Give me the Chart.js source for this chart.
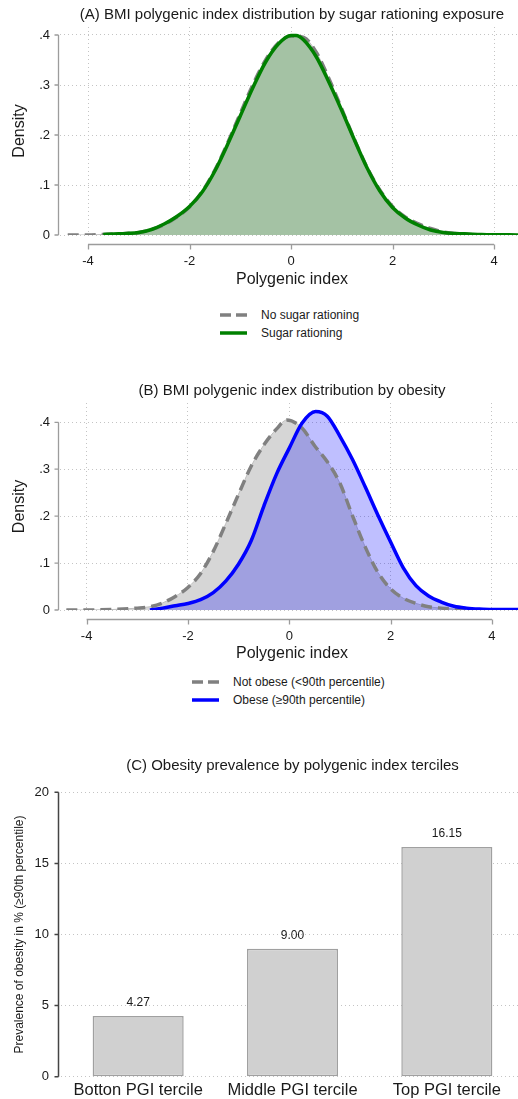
<!DOCTYPE html>
<html>
<head>
<meta charset="utf-8">
<script src="https://cdn.jsdelivr.net/npm/chart.js@4.4.1/dist/chart.umd.min.js"></script>
<style>
html, body { margin: 0; padding: 0; background: #fff; overflow: hidden; }
#page { position: relative; width: 524px; height: 1099px; }
#page canvas { position: absolute; left: 0; }
.legend { position: absolute; font: 12px "Liberation Sans", Arial, sans-serif; color: #1a1a1a; }
.legend div { display: flex; align-items: center; height: 18px; }
.legend svg { display: block; }
</style>
</head>
<body>
<div id="page">
  <canvas id="panelA" width="524" height="295" style="top:0"></canvas>
  <div class="legend" id="legendA" style="left:220px;top:306px"></div>
  <canvas id="panelB" width="524" height="300" style="top:370px"></canvas>
  <div class="legend" id="legendB" style="left:192px;top:673px"></div>
  <canvas id="panelC" width="524" height="359" style="top:740px"></canvas>
</div>
<script>
// Panel A: density of the BMI polygenic index, by sugar rationing exposure
const noRationingX = [-4.4, -4.0, -3.7, -3.5, -3.25, -3.0, -2.75, -2.5, -2.25, -2.0, -1.75, -1.5, -1.25, -1.0, -0.75, -0.5, -0.25, 0.0, 0.25, 0.5, 0.75, 1.0, 1.25, 1.5, 1.75, 2.0, 2.25, 2.5, 2.75, 3.0, 3.25, 3.5, 3.8];
const noRationingY = [0.000, 0.000, 0.001, 0.002, 0.003, 0.005, 0.011, 0.021, 0.036, 0.056, 0.087, 0.130, 0.184, 0.243, 0.301, 0.350, 0.384, 0.398, 0.395, 0.365, 0.312, 0.252, 0.191, 0.135, 0.090, 0.057, 0.036, 0.023, 0.013, 0.006, 0.003, 0.001, 0.000];
const rationingX = [-3.7, -3.5, -3.25, -3.0, -2.75, -2.5, -2.25, -2.0, -1.75, -1.5, -1.25, -1.0, -0.75, -0.5, -0.25, 0.0, 0.1, 0.25, 0.5, 0.75, 1.0, 1.25, 1.5, 1.75, 2.0, 2.25, 2.5, 2.75, 3.0, 3.25, 3.5, 3.75, 4.0, 4.3, 4.7];
const rationingY = [0.001, 0.002, 0.003, 0.005, 0.011, 0.022, 0.037, 0.057, 0.086, 0.128, 0.181, 0.238, 0.295, 0.346, 0.382, 0.399, 0.399, 0.390, 0.356, 0.305, 0.249, 0.190, 0.134, 0.088, 0.055, 0.034, 0.020, 0.010, 0.005, 0.003, 0.002, 0.001, 0.0005, 0.0003, 0.0002];

// Panel B: density of the BMI polygenic index, by obesity status
const notObeseX = [-4.4, -4.0, -3.5, -3.0, -2.75, -2.5, -2.25, -2.0, -1.75, -1.5, -1.25, -1.0, -0.75, -0.5, -0.25, -0.05, 0.25, 0.5, 0.75, 1.0, 1.25, 1.5, 1.75, 2.0, 2.25, 2.5, 2.75, 3.0, 3.25, 3.6];
const notObeseY = [0.000, 0.000, 0.001, 0.004, 0.007, 0.015, 0.029, 0.048, 0.078, 0.125, 0.185, 0.247, 0.307, 0.352, 0.386, 0.405, 0.388, 0.350, 0.316, 0.270, 0.200, 0.134, 0.080, 0.045, 0.025, 0.014, 0.007, 0.004, 0.002, 0.000];
const obeseX = [-2.75, -2.5, -2.25, -2.0, -1.75, -1.5, -1.25, -1.0, -0.75, -0.5, -0.25, 0.0, 0.25, 0.52, 0.75, 1.0, 1.25, 1.5, 1.75, 2.0, 2.25, 2.5, 2.75, 3.0, 3.25, 3.5, 3.75, 4.0, 4.3, 4.7];
const obeseY = [0.000, 0.004, 0.009, 0.014, 0.022, 0.037, 0.062, 0.098, 0.148, 0.222, 0.290, 0.345, 0.398, 0.423, 0.413, 0.370, 0.320, 0.262, 0.202, 0.145, 0.090, 0.052, 0.030, 0.017, 0.008, 0.004, 0.002, 0.001, 0.001, 0.001];

// Panel C: obesity prevalence by polygenic index tercile
const tercileLabels = ['Botton PGI tercile', 'Middle PGI tercile', 'Top PGI tercile'];
const obesityPrevalence = [4.27, 9.00, 16.15];

// Axis ticks
const pgiTicks = [-4, -2, 0, 2, 4];
const densityTicks = [0, 0.1, 0.2, 0.3, 0.4];
const prevalenceTicks = [0, 5, 10, 15, 20];

const FONT = '"Liberation Sans", Arial, Helvetica, sans-serif';
const TEXT = '#1a1a1a';
const GRID = '#c4c4c4';
const GRAY_LINE = 'rgb(128,128,128)';
const GRAY_FILL = 'rgb(214,214,214)';

Chart.defaults.font.family = FONT;
Chart.defaults.color = TEXT;

const points = (xs, ys) => xs.map((x, i) => ({ x: x, y: ys[i] }));
const stataNum = v => v === 0 ? '0' : String(v).replace(/^(-?)0\./, '$1.');

// Stata-like frame: title over the plot region, axis lines that stop at the outer ticks
const stataFrame = {
    id: 'stataFrame',
    afterDraw(chart, args, opts) {
        const { ctx, chartArea: area, scales } = chart;
        const x = scales.x, y = scales.y;
        ctx.save();
        ctx.fillStyle = TEXT;
        ctx.font = '15px ' + FONT;
        ctx.textAlign = 'center';
        ctx.textBaseline = 'middle';
        ctx.fillText(opts.title, (area.left + area.right) / 2, opts.titleY);

        ctx.strokeStyle = opts.axisColor;
        ctx.lineWidth = opts.axisWidth;
        ctx.beginPath();
        const yVals = y.ticks.map(t => t.value);
        const ax = Math.round(area.left - opts.yAxisGap) - 0.5;
        ctx.moveTo(ax, y.getPixelForValue(Math.max(...yVals)));
        ctx.lineTo(ax, y.getPixelForValue(Math.min(...yVals)));
        yVals.forEach(v => {
            const p = y.getPixelForValue(v);
            ctx.moveTo(ax, p);
            ctx.lineTo(ax - 4, p);
        });
        ctx.stroke();

        if (opts.xAxis) {
            const xVals = x.ticks.map(t => t.value);
            const ay = Math.round(area.bottom + 9) + 0.5;
            ctx.beginPath();
            ctx.moveTo(x.getPixelForValue(Math.min(...xVals)), ay);
            ctx.lineTo(x.getPixelForValue(Math.max(...xVals)), ay);
            xVals.forEach(v => {
                const p = Math.round(x.getPixelForValue(v)) + 0.5;
                ctx.moveTo(p, ay);
                ctx.lineTo(p, ay + 5);
            });
            ctx.stroke();
        }
        ctx.restore();
    }
};

// Value printed above each bar
const barValues = {
    id: 'barValues',
    afterDatasetsDraw(chart) {
        const { ctx } = chart;
        const values = chart.data.datasets[0].data;
        ctx.save();
        ctx.fillStyle = TEXT;
        ctx.font = '12px ' + FONT;
        ctx.textAlign = 'center';
        ctx.textBaseline = 'middle';
        chart.getDatasetMeta(0).data.forEach((bar, i) => {
            ctx.fillText(values[i].toFixed(2), bar.x, bar.y - 13);
        });
        ctx.restore();
    }
};

function densityOptions(p) {
    return {
        responsive: false,
        animation: false,
        events: [],
        layout: { padding: { top: p.top, left: 0, right: 0, bottom: 0 } },
        elements: { point: { radius: 0 }, line: { tension: 0.4, cubicInterpolationMode: 'monotone' } },
        plugins: {
            legend: { display: false },
            tooltip: { enabled: false },
            stataFrame: { title: p.title, titleY: p.titleY, axisColor: '#9c9c9c', axisWidth: 1.3, yAxisGap: 1, xAxis: true }
        },
        scales: {
            x: {
                type: 'linear',
                min: p.xMin,
                max: p.xMax,
                afterBuildTicks: s => { s.ticks = pgiTicks.map(v => ({ value: v })); },
                afterFit: s => { s.height = p.height - p.bottom; },
                grid: { color: GRID, lineWidth: 1, drawTicks: false },
                border: { display: false, dash: [1, 3] },
                ticks: { padding: 18.5, font: { size: 13 }, color: TEXT, maxRotation: 0, callback: v => String(v) },
                title: { display: true, text: 'Polygenic index', font: { size: 16 }, color: TEXT, padding: { top: 0, bottom: p.xTitlePad } }
            },
            y: {
                min: 0,
                max: p.yMax,
                afterBuildTicks: s => { s.ticks = densityTicks.map(v => ({ value: v })); },
                afterFit: s => { s.width = 60; },
                grid: { color: GRID, lineWidth: 1, drawTicks: false },
                border: { display: false, dash: [1, 3] },
                ticks: { padding: 10, font: { size: 13 }, color: TEXT, callback: v => stataNum(v) },
                title: { display: true, text: 'Density', font: { size: 16 }, color: TEXT, padding: { top: 10, bottom: 0 } }
            }
        }
    };
}

// Panel A
const chartA = new Chart(document.getElementById('panelA'), {
    type: 'line',
    data: {
        datasets: [
            { label: 'Sugar rationing', data: points(rationingX, rationingY), borderColor: 'rgb(0,128,0)', borderWidth: 3.5, fill: false, order: 1 },
            { label: 'No sugar rationing', data: points(noRationingX, noRationingY), borderColor: GRAY_LINE, borderWidth: 3.5, borderDash: [11, 6], borderCapStyle: 'butt', fill: false, order: 2 },
            { data: points(rationingX, rationingY), borderColor: 'rgba(0,110,0,0.35)', borderWidth: 1, backgroundColor: 'rgba(0,128,0,0.23)', fill: 'origin', order: 3 },
            { data: points(noRationingX, noRationingY), borderColor: 'rgb(190,190,190)', borderWidth: 1, backgroundColor: GRAY_FILL, fill: 'origin', order: 4 }
        ]
    },
    options: densityOptions({
        title: '(A) BMI polygenic index distribution by sugar rationing exposure',
        titleY: 15, top: 27, bottom: 235, height: 295, xTitlePad: 6,
        xMin: -4.552, xMax: 4.591, yMax: 0.416
    }),
    plugins: [stataFrame]
});

// Panel B
const chartB = new Chart(document.getElementById('panelB'), {
    type: 'line',
    data: {
        datasets: [
            { label: 'Obese (\u226590th percentile)', data: points(obeseX, obeseY), borderColor: 'rgb(0,0,255)', borderWidth: 3.5, fill: false, order: 1 },
            { label: 'Not obese (<90th percentile)', data: points(notObeseX, notObeseY), borderColor: GRAY_LINE, borderWidth: 3.5, borderDash: [11, 6], borderCapStyle: 'butt', fill: false, order: 2 },
            { data: points(obeseX, obeseY), borderColor: 'rgba(0,0,255,0.3)', borderWidth: 1, backgroundColor: 'rgba(0,0,255,0.25)', fill: 'origin', order: 3 },
            { data: points(notObeseX, notObeseY), borderColor: 'rgb(190,190,190)', borderWidth: 1, backgroundColor: GRAY_FILL, fill: 'origin', order: 4 }
        ]
    },
    options: densityOptions({
        title: '(B) BMI polygenic index distribution by obesity',
        titleY: 20.7, top: 33, bottom: 240, height: 300, xTitlePad: 7,
        xMin: -4.525, xMax: 4.632, yMax: 0.4411
    }),
    plugins: [stataFrame]
});

// Panel C
const chartC = new Chart(document.getElementById('panelC'), {
    type: 'bar',
    data: {
        labels: tercileLabels,
        datasets: [{
            data: obesityPrevalence,
            backgroundColor: 'rgb(208,208,208)',
            borderColor: 'rgb(160,160,160)',
            borderWidth: 1.5,
            borderSkipped: false,
            barPercentage: 0.59,
            categoryPercentage: 1
        }]
    },
    options: {
        responsive: false,
        animation: false,
        events: [],
        layout: { padding: { top: 52.3, left: 0, right: 0, bottom: 0 } },
        plugins: {
            legend: { display: false },
            tooltip: { enabled: false },
            stataFrame: { title: '(C) Obesity prevalence by polygenic index terciles', titleY: 26, axisColor: '#444', axisWidth: 1.5, yAxisGap: 2, xAxis: false }
        },
        scales: {
            x: {
                afterFit: s => { s.height = 359 - 336.7; },
                grid: { display: false, drawTicks: false },
                border: { display: false },
                ticks: { padding: 4, font: { size: 16.5 }, color: TEXT, maxRotation: 0, autoSkip: false }
            },
            y: {
                min: 0,
                max: 20,
                afterBuildTicks: s => { s.ticks = prevalenceTicks.map(v => ({ value: v })); },
                afterFit: s => { s.width = 61; },
                grid: { color: GRID, lineWidth: 1, drawTicks: false },
                border: { display: false, dash: [1, 3] },
                ticks: { padding: 12, font: { size: 13 }, color: TEXT },
                title: { display: true, text: 'Prevalence of obesity in % (\u226590th percentile)', font: { size: 12 }, color: TEXT, padding: { top: 12, bottom: 0 } }
            }
        }
    },
    plugins: [stataFrame, barValues]
});

// Legends stacked in one column, built from the line datasets
function buildLegend(chart, el) {
    chart.data.datasets.filter(d => d.label).reverse().forEach(d => {
        const row = document.createElement('div');
        const dash = d.borderDash ? ' stroke-dasharray="11 5"' : '';
        row.innerHTML = '<svg width="27" height="6"><line x1="0" y1="3" x2="27" y2="3" stroke="' + d.borderColor +
            '" stroke-width="3.5"' + dash + '/></svg><span style="margin-left:14px">' + d.label + '</span>';
        el.appendChild(row);
    });
}
buildLegend(chartA, document.getElementById('legendA'));
buildLegend(chartB, document.getElementById('legendB'));
</script>
</body>
</html>
